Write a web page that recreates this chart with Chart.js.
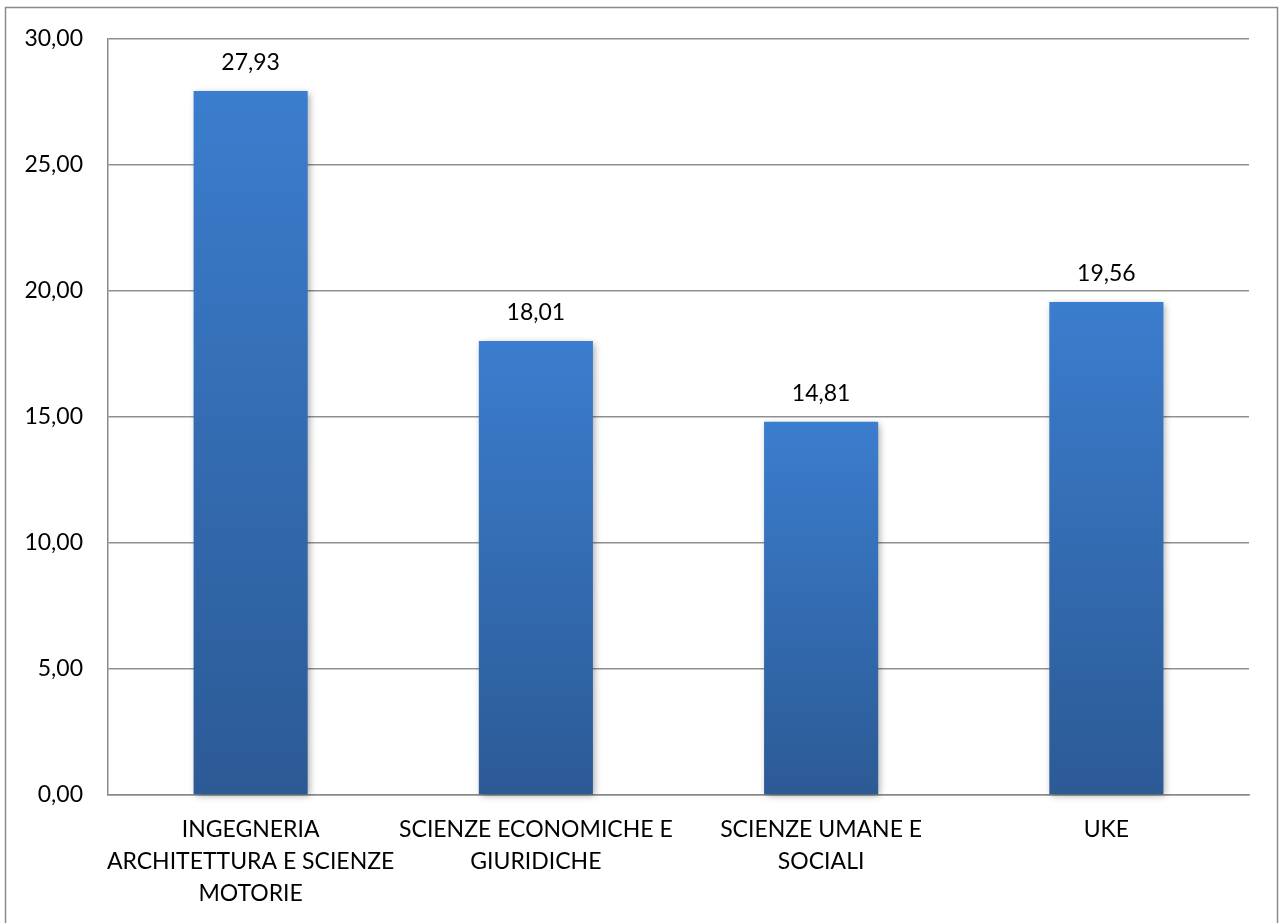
<!DOCTYPE html>
<html>
<head>
<meta charset="utf-8">
<script src="https://cdn.jsdelivr.net/npm/chart.js@4/dist/chart.umd.min.js"></script>
<style>
  html, body { margin: 0; padding: 0; background: #fff; }
  #wrap { width: 1279px; height: 923px; }
</style>
</head>
<body>
<div id="wrap"><canvas id="myChart" width="1279" height="923"></canvas></div>
<script>
// categories (multi-line labels) and values
var categories = [
  ["INGEGNERIA", "ARCHITETTURA E SCIENZE", "MOTORIE"],
  ["SCIENZE ECONOMICHE E", "GIURIDICHE"],
  ["SCIENZE UMANE E", "SOCIALI"],
  ["UKE"]
];
var values = [27.93, 18.01, 14.81, 19.56];
var yTicks = [0, 5, 10, 15, 20, 25, 30];

var fontFamily = "Lato, 'Open Sans', sans-serif";

// italian decimal format
function fmt(v) {
  return v.toFixed(2).replace('.', ',');
}

// white background + outer frame
var framePlugin = {
  id: 'frame',
  beforeDraw: function(chart) {
    var ctx = chart.ctx;
    ctx.save();
    ctx.fillStyle = '#fff';
    ctx.fillRect(0, 0, chart.width, chart.height);
    ctx.strokeStyle = '#8a8a8a';
    ctx.lineWidth = 1.5;
    ctx.strokeRect(5.5, 7.5, 1272, 1000);
    ctx.restore();
  }
};

// soft shadow behind bars
var shadowPlugin = {
  id: 'barShadow',
  beforeDatasetDraw: function(chart) {
    var ctx = chart.ctx;
    ctx.save();
    ctx.shadowColor = 'rgba(0,0,0,0.35)';
    ctx.shadowBlur = 7;
    ctx.shadowOffsetX = 2;
    ctx.shadowOffsetY = 2;
  },
  afterDatasetDraw: function(chart) {
    chart.ctx.restore();
  }
};

// value labels above bars
var labelPlugin = {
  id: 'valueLabels',
  afterDatasetsDraw: function(chart) {
    var ctx = chart.ctx;
    var meta = chart.getDatasetMeta(0);
    ctx.save();
    ctx.font = '23px ' + fontFamily;
    ctx.fillStyle = '#000';
    ctx.textAlign = 'center';
    ctx.textBaseline = 'middle';
    meta.data.forEach(function(bar, i) {
      ctx.fillText(fmt(values[i]), bar.x, bar.y - 28);
    });
    ctx.restore();
  }
};

function barGradient(context) {
  var chart = context.chart;
  var area = chart.chartArea;
  if (!area || context.raw === undefined) return '#3570b8';
  var top = chart.scales.y.getPixelForValue(context.raw);
  var bottom = chart.scales.y.getPixelForValue(0);
  var g = chart.ctx.createLinearGradient(0, top, 0, bottom);
  g.addColorStop(0, '#3b7dce');
  g.addColorStop(1, '#2c5a95');
  return g;
}

var ctx = document.getElementById('myChart');

var myChart = new Chart(ctx, {
  type: 'bar',
  data: {
    labels: categories,
    datasets: [{
      data: values,
      backgroundColor: barGradient,
      borderWidth: 0,
      barPercentage: 0.4,
      categoryPercentage: 1,
      clip: false
    }]
  },
  options: {
    responsive: false,
    animation: false,
    devicePixelRatio: 1,
    layout: {
      padding: { left: 0, top: 37, right: 30, bottom: 0 }
    },
    plugins: {
      legend: { display: false },
      tooltip: { enabled: false }
    },
    scales: {
      x: {
        grid: { display: false, drawTicks: false },
        border: { color: '#8a8a8a', width: 1.5 },
        ticks: {
          color: '#000',
          maxRotation: 0,
          autoSkip: false,
          padding: 19,
          font: { family: fontFamily, size: 23, lineHeight: 1.38 }
        },
        afterFit: function(scale) { scale.height = 128; }
      },
      y: {
        min: 0,
        max: 30,
        afterBuildTicks: function(scale) {
          scale.ticks = yTicks.map(function(v) { return { value: v }; });
        },
        grid: { color: '#8f8f8f', lineWidth: 1.5, drawTicks: false },
        border: { color: '#8a8a8a', width: 1.5 },
        ticks: {
          color: '#000',
          padding: 25,
          font: { family: fontFamily, size: 23 },
          callback: function(v) { return fmt(v); }
        },
        afterFit: function(scale) { scale.width = 108; }
      }
    }
  },
  plugins: [framePlugin, shadowPlugin, labelPlugin]
});
</script>
</body>
</html>
